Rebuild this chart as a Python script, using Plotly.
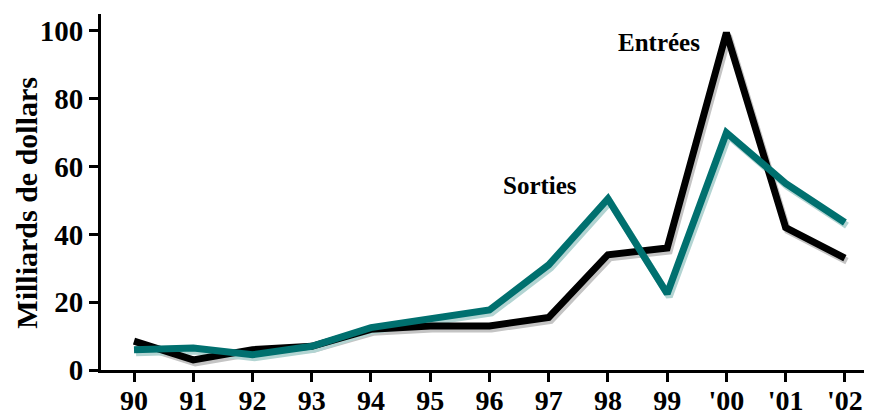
import plotly.graph_objects as go

years = ["90", "91", "92", "93", "94", "95", "96", "97", "98", "99", "'00", "'01", "'02"]
entrees = [8.5, 3, 6, 7, 12, 13, 13, 15.5, 34, 36, 99.5, 42, 33]
sorties = [6, 6.5, 4.5, 7, 12.5, 15, 17.7, 31, 50.5, 22.5, 70, 55, 43.5]

idx = list(range(len(years)))

BLACK = "#000000"
TEAL = "#00706f"
BLACK_SH = "#c4c4c4"
TEAL_SH = "#b2d4d2"

font_family = "Liberation Serif, Times New Roman, serif"

fig = go.Figure()

# shadows on hidden base axes (shifted ranges)
fig.add_trace(go.Scatter(x=idx, y=entrees, mode="lines", line=dict(color=BLACK_SH, width=7),
                         xaxis="x", yaxis="y", hoverinfo="skip", showlegend=False))
fig.add_trace(go.Scatter(x=idx, y=sorties, mode="lines", line=dict(color=TEAL_SH, width=7),
                         xaxis="x", yaxis="y", hoverinfo="skip", showlegend=False))
# main lines
fig.add_trace(go.Scatter(x=idx, y=entrees, mode="lines", line=dict(color=BLACK, width=7),
                         xaxis="x2", yaxis="y2", name="Entrées", showlegend=False))
fig.add_trace(go.Scatter(x=idx, y=sorties, mode="lines", line=dict(color=TEAL, width=7),
                         xaxis="x2", yaxis="y2", name="Sorties", showlegend=False))

xr = [-0.557, 12.39]
yr = [0, 105]
dx = 0.035
dy = 0.9

xtickfont = dict(family=font_family, size=28, weight="bold", color="black")
ytickfont = dict(family=font_family, size=29, weight="bold", color="black")

# page body has an 8px margin: shrink the figure by 8px so positions land where intended
fig.update_layout(
    width=864, height=409,
    margin=dict(l=93, r=4, t=6, b=47, autoexpand=False),
    paper_bgcolor="white", plot_bgcolor="white",
    font=dict(family=font_family, color="black"),
    xaxis=dict(range=[xr[0] - dx, xr[1] - dx], visible=False, fixedrange=True),
    yaxis=dict(range=[yr[0] + dy, yr[1] + dy], visible=False, fixedrange=True),
    xaxis2=dict(range=xr, overlaying="x", anchor="y2", tickmode="array", tickvals=idx, ticktext=years,
                showline=True, linecolor="black", linewidth=3, ticks="outside", ticklen=9,
                tickwidth=2.5, tickcolor="black", showgrid=False, zeroline=False,
                tickfont=xtickfont, automargin=False, ticklabelstandoff=-6),
    yaxis2=dict(range=yr, overlaying="y", anchor="x2", tickvals=[0, 20, 40, 60, 80, 100],
                showline=True, linecolor="black", linewidth=3, ticks="outside", ticklen=9,
                tickwidth=2.5, tickcolor="black", showgrid=False, zeroline=False,
                tickfont=ytickfont, automargin=False),
)

fig.add_annotation(x=0, y=0.47, xref="paper", yref="paper", xshift=-74, text="Milliards de dollars",
                   textangle=-90, showarrow=False, xanchor="center", yanchor="middle",
                   font=dict(family=font_family, size=30, weight="bold", color="black"))
fig.add_annotation(x=8.87, y=96.5, xref="x2", yref="y2", text="Entrées", showarrow=False,
                   font=dict(family=font_family, size=25, weight="bold", color="black"))
fig.add_annotation(x=6.85, y=54.5, xref="x2", yref="y2", text="Sorties", showarrow=False,
                   font=dict(family=font_family, size=25, weight="bold", color="black"))

fig.write_html("out.html")
